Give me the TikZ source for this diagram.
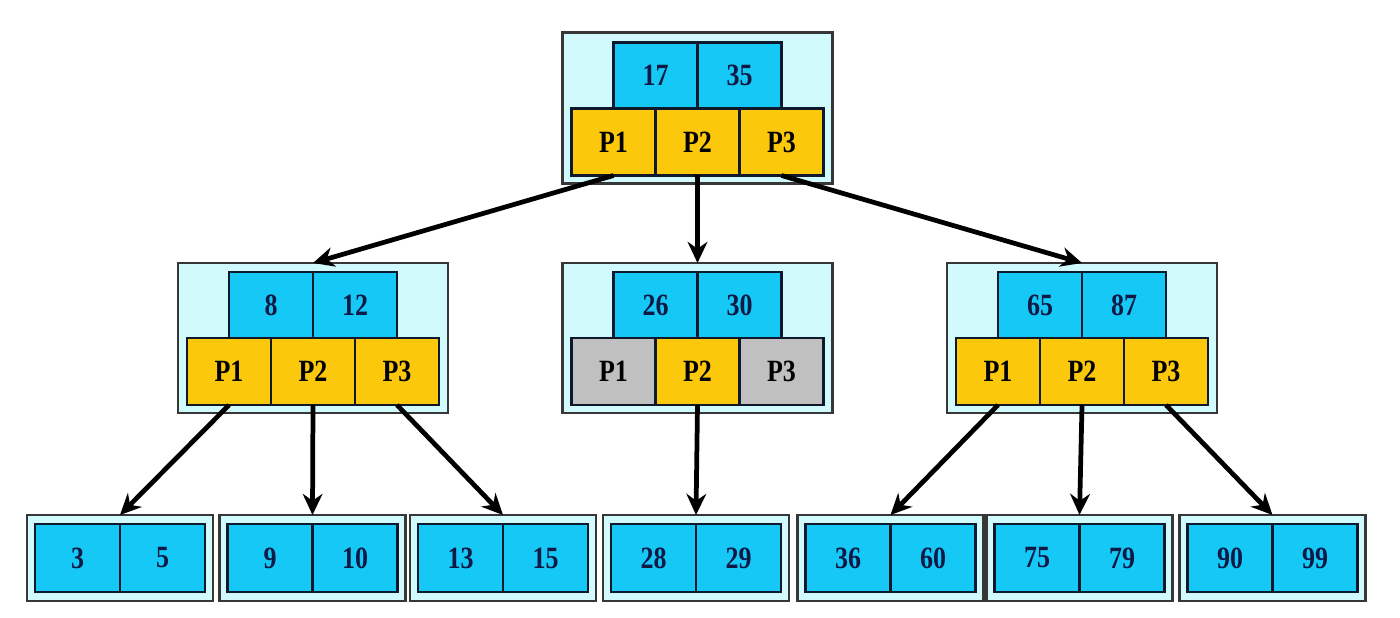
\documentclass[tikz,border=0pt]{standalone}
\usepackage{fontspec}
\newfontfamily\cellfont{Liberation Serif}[FakeStretch=0.84]
\usetikzlibrary{arrows.meta,positioning}

\definecolor{boxfill}{RGB}{208,250,252}
\definecolor{keyblue}{RGB}{22,200,245}
\definecolor{ptrgold}{RGB}{252,200,12}
\definecolor{nilgray}{RGB}{192,192,192}
\definecolor{celledge}{RGB}{15,25,45}
\definecolor{boxedge}{RGB}{55,55,55}
\definecolor{keytext}{RGB}{15,25,70}

\begin{document}
\begin{tikzpicture}[
    >={Stealth[length=6pt,width=5.6pt]},
    cell/.style={draw=celledge, line width=0.7pt, outer sep=0pt, inner sep=0pt, font=\cellfont\fontsize{8.8}{10}\selectfont\bfseries},
    keycell/.style={cell, fill=keyblue, text=keytext, minimum width=0.84cm, minimum height=0.66cm},
    ptrcell/.style={cell, fill=ptrgold, minimum width=0.84cm, minimum height=0.67cm},
    nilcell/.style={ptrcell, fill=nilgray},
    leafcell/.style={keycell, minimum width=0.85cm, minimum height=0.68cm},
    nodebox/.style={draw=boxedge, line width=0.7pt, fill=boxfill, outer sep=0pt},
    treenode/.style={nodebox, minimum width=2.7cm, minimum height=1.5cm},
    leafbox/.style={nodebox, minimum width=1.86cm, minimum height=0.86cm},
    arrow/.style={->, line width=1.35pt}
  ]
    \useasboundingbox (0,0) rectangle (14,-6.18);

    % root
    \node[treenode, minimum height=1.51cm] (root) at (6.975,-1.08) {};
    \node[ptrcell, above=0.08cm of root.south] (root-p2) {P2};
    \node[ptrcell, left=0pt of root-p2] (root-p1) {P1};
    \node[ptrcell, right=0pt of root-p2] (root-p3) {P3};
    \node[keycell, above left=0pt and 0pt of root-p2.north] (root-k1) {17};
    \node[keycell, above right=0pt and 0pt of root-p2.north] (root-k2) {35};

    % second level
    \node[treenode] (left) at (3.13,-3.38) {};
    \node[ptrcell, above=0.08cm of left.south] (left-p2) {P2};
    \node[ptrcell, left=0pt of left-p2] (left-p1) {P1};
    \node[ptrcell, right=0pt of left-p2] (left-p3) {P3};
    \node[keycell, above left=0pt and 0pt of left-p2.north] (left-k1) {8};
    \node[keycell, above right=0pt and 0pt of left-p2.north] (left-k2) {12};

    \node[treenode] (mid) at (6.975,-3.38) {};
    \node[ptrcell, above=0.08cm of mid.south] (mid-p2) {P2};
    \node[nilcell, left=0pt of mid-p2] (mid-p1) {P1};
    \node[nilcell, right=0pt of mid-p2] (mid-p3) {P3};
    \node[keycell, above left=0pt and 0pt of mid-p2.north] (mid-k1) {26};
    \node[keycell, above right=0pt and 0pt of mid-p2.north] (mid-k2) {30};

    \node[treenode] (right) at (10.82,-3.38) {};
    \node[ptrcell, above=0.08cm of right.south] (right-p2) {P2};
    \node[ptrcell, left=0pt of right-p2] (right-p1) {P1};
    \node[ptrcell, right=0pt of right-p2] (right-p3) {P3};
    \node[keycell, above left=0pt and 0pt of right-p2.north] (right-k1) {65};
    \node[keycell, above right=0pt and 0pt of right-p2.north] (right-k2) {87};

    % leaves
    \foreach \n/\x/\a/\b in {1/1.20/3/5, 2/3.125/9/10, 3/5.03/13/15, 4/6.96/28/29,
                             5/8.905/36/60, 6/10.795/75/79, 7/12.725/90/99} {
      \node[leafbox] (leaf\n) at (\x,-5.58) {};
      \node[leafcell, left=0pt of leaf\n.center] (leaf\n-a) {\a};
      \node[leafcell, right=0pt of leaf\n.center] (leaf\n-b) {\b};
    }

    \draw[arrow] (root-p1.south) -- (left.north);
    \draw[arrow] (root-p2.south) -- (mid.north);
    \draw[arrow] (root-p3.south) -- (right.north);
    \draw[arrow] (left-p1.south) -- (leaf1.north);
    \draw[arrow] (left-p2.south) -- (leaf2.north);
    \draw[arrow] (left-p3.south) -- (leaf3.north);
    \draw[arrow] (mid-p2.south) -- (leaf4.north);
    \draw[arrow] (right-p1.south) -- (leaf5.north);
    \draw[arrow] (right-p2.south) -- (leaf6.north);
    \draw[arrow] (right-p3.south) -- (leaf7.north);
  \end{tikzpicture}
\end{document}
